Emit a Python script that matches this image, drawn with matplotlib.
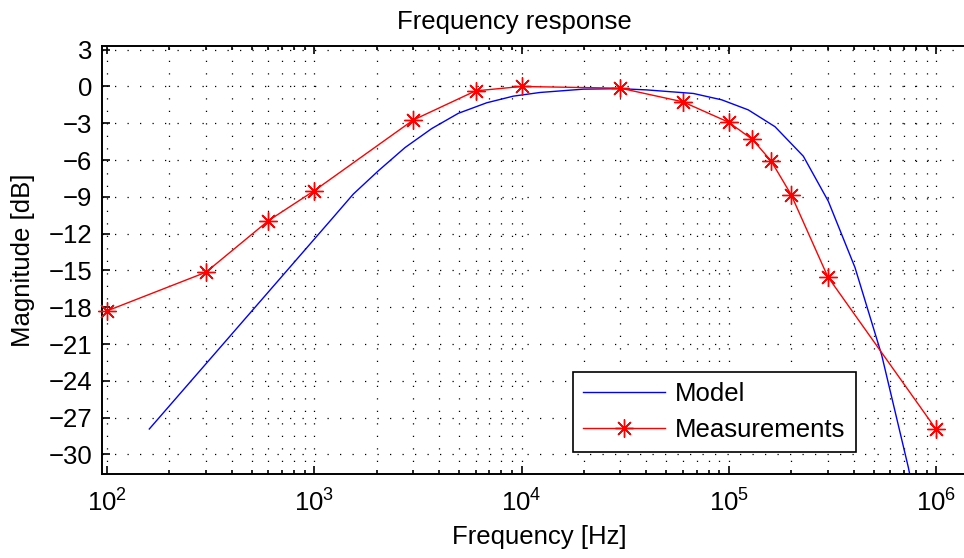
import numpy as np
import matplotlib
matplotlib.use("Agg")
import matplotlib.pyplot as plt
from matplotlib.ticker import FixedLocator, NullFormatter, FuncFormatter

plt.rcParams['font.family'] = ['Liberation Sans', 'DejaVu Sans']
plt.rcParams['mathtext.fontset'] = 'custom'
plt.rcParams['mathtext.rm'] = 'Liberation Sans'
plt.rcParams['mathtext.it'] = 'Liberation Sans:italic'
plt.rcParams['mathtext.bf'] = 'Liberation Sans:bold'

# model curve
model_f = [160, 1213, 1542, 2037, 2742, 3690, 4955, 6793, 9126, 12270, 19860,
           29850, 40180, 67450, 92490, 124200, 167100, 229000, 302100, 406300,
           546600, 734800, 988000]
model_db = [-27.93, -10.82, -8.78, -6.88, -4.98, -3.43, -2.19, -1.33, -0.79,
            -0.49, -0.22, -0.18, -0.28, -0.57, -1.09, -1.91, -3.28, -5.69,
            -9.36, -14.76, -21.9, -31.05, -41.8]

# measured points
meas_f = [100, 300, 600, 1000, 3000, 6000, 10000, 30000, 60000, 100000,
          130000, 160000, 200000, 300000, 1000000]
meas_db = [-18.3, -15.15, -10.95, -8.5, -2.74, -0.36, 0.0, -0.14, -1.25,
           -2.92, -4.32, -6.07, -8.83, -15.5, -27.95]

y_ticks = list(range(-30, 4, 3))
x_ticks = [1e2, 1e3, 1e4, 1e5, 1e6]

FS = 18.5
W, H = 964, 558
fig = plt.figure(figsize=(W / 100, H / 100), dpi=100)
# axes box in pixels; right edge runs past the figure like the original
left_px, right_px, top_px, bot_px = 102, 977.5, 46, 474
ax = fig.add_axes([left_px / W, (H - bot_px) / H,
                   (right_px - left_px) / W, (bot_px - top_px) / H])

ax.semilogx(model_f, model_db, color=(0, 0, 1), lw=1.0, label='Model')
ax.semilogx(meas_f, meas_db, color=(1, 0, 0), lw=1.0, marker=(8, 2, 0),
            markersize=13, markeredgewidth=1.0, label='Measurements',
            clip_on=False, zorder=3)

ax.set_xlim(10 ** 1.9759, 10 ** 6.2)
ax.set_ylim(-31.6, 3.3)

ax.xaxis.set_major_locator(FixedLocator(x_ticks))
minors = [m * 10 ** d for d in range(1, 7) for m in range(2, 10)]
ax.xaxis.set_minor_locator(FixedLocator(minors))
ax.xaxis.set_minor_formatter(NullFormatter())
ax.xaxis.set_major_formatter(FuncFormatter(
    lambda v, p: r'$\mathregular{10^{%d}}$' % int(round(np.log10(v)))))
ax.set_yticks(y_ticks)
ax.set_yticklabels([str(v).replace('-', '\u2212') for v in y_ticks])

ax.tick_params(which='both', direction='in', top=True, right=True,
               labelsize=FS, width=1.2)
ax.tick_params(which='major', length=6)
ax.tick_params(axis='x', which='major', pad=11)
ax.tick_params(axis='y', which='major', pad=7)
ax.tick_params(which='minor', length=3)
for s in ax.spines.values():
    s.set_linewidth(1.4)

grid_kw = dict(color='k', lw=0.9, linestyle=(0, (1.0, 9)))
ax.grid(True, which='both', axis='x', **grid_kw)
ax.grid(True, which='major', axis='y', **grid_kw)
ax.set_axisbelow(True)

ax.set_title('Frequency response', fontsize=FS,
             x=(514 - left_px) / (right_px - left_px), pad=12)
ax.set_xlabel('Frequency [Hz]', fontsize=FS, labelpad=6)
ax.set_ylabel('Magnitude [dB]', fontsize=FS, labelpad=10)

leg = ax.legend(loc='lower right', bbox_to_anchor=(856 / W, (H - 452) / H),
                bbox_transform=fig.transFigure, fontsize=FS, frameon=True,
                fancybox=False, framealpha=1, edgecolor='k',
                handlelength=3.2, handletextpad=0.4, labelspacing=0.45,
                borderpad=0.4, borderaxespad=0)
leg.get_frame().set_linewidth(1.2)

fig.savefig('out.png', dpi=100)
